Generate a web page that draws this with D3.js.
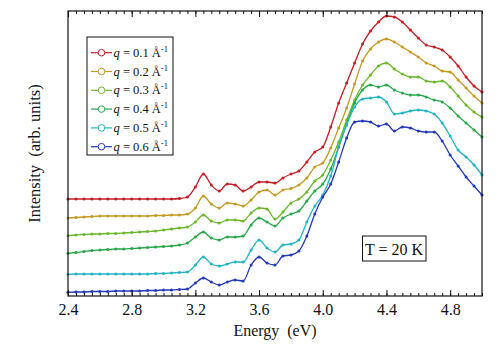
<!DOCTYPE html>
<html>
<head>
<meta charset="utf-8">
<script src="https://cdn.jsdelivr.net/npm/d3@7"></script>
<style>
  body { margin: 0; background: #fff; }
  svg text { font-family: "Liberation Serif", "Times New Roman", serif !important; fill: #111; }
</style>
</head>
<body>
<script>
/*size*/
var w = 498;
var h = 352;
var margin = {left: 68, right: 16, top: 11, bottom: 56};

// photon energy (eV), same grid for every spectrum
var energy = [2.40,2.45,2.50,2.55,2.60,2.65,2.70,2.75,2.80,2.85,2.90,2.95,3.00,3.05,3.10,
  3.15,3.20,3.25,3.30,3.35,3.40,3.45,3.50,3.55,3.60,3.65,3.70,3.75,3.80,3.85,3.90,3.95,
  4.00,4.05,4.10,4.15,4.20,4.25,4.30,4.35,4.40,4.45,4.50,4.55,4.60,4.65,4.70,4.75,4.80,
  4.85,4.90,4.95,5.00];

// intensity (arb. units, spectra offset vertically)
var q01 = [97,97,97,97,97,97,97,97,97,97,97,97,97,97,97.5,
  99,109,122,111,105,112,111,105,109,114,114,113,118,122,125,134,144,149,169,193,
  213,233,252,265,274,280,279,274,266,258,251,249,246,239,230,219,210,204];
var q02 = [78,78.5,79,79.5,80,80,80,80,80,80,80,80.5,80.5,81,81,
  82,88,100,92,88,93,92,90,96,104,106,101,106,107.5,111,118,129,133,148,168,
  188,212,235,247,254,257,254,249,244,239,233,230,225,224,216,208,200,193];
var q03 = [60.3,61,61.5,62,62,62.5,62.5,63,63.5,64,64.5,65,66,67,68,
  69,74,81,75,73,76,76,75,83,88,87,77,84,93,97,104,115,121,136,154,
  176,196,211,221,230,233,227,222,219,219,215,214,215,209,200,191,184,179];
var q04 = [42.7,43.5,44.5,45.5,46,46.5,47,47,47.5,48,48.5,49,49.5,50,51,
  53,59,64,58,56,59,59,60,71,78,74,70,78,82,85,95,105,112,127,149,
  172,193,206,211,209,211,206,203,201,201,199,196,194,188,180,173,166,159];
var q05 = [21.7,22,22,22,22,22,22,22,22,22,22,22.5,22.5,23,23.5,
  24,31,39,32,30,32,34,34,46,56,48,44,51,52,56,74,90,101,120,149,
  171,189,197,198,199,194,182,183,185,186,185,182,173,160,146,139,131,121];
var q06 = [3.7,4,4,4.5,4.5,4.5,5,5,5,5,5.5,5.5,6,6,6.5,
  7,13,18,14,11,14,16,15,31,39,33,31,40,41,45,60,82,99,112,134,
  158,174,175,174,170,172,165,169,168,165,164,164,155,141,130,119,110,101];

var qLabels = ["0.1","0.2","0.3","0.4","0.5","0.6"];
var colors = ["#c41e24","#c49a22","#6ab82a","#27a84a","#22b4c4","#2438b8"];
var spectra = [q01,q02,q03,q04,q05,q06];

var xTicks = [2.4,2.8,3.2,3.6,4.0,4.4,4.8];

var svg = d3.select("body").append("svg")
  .attr("width", w)
  .attr("height", h);

var xScale = d3.scaleLinear()
  .domain([2.4, 5.0])
  .range([margin.left, w - margin.right]);

var yScale = d3.scaleLinear()
  .domain([0, 285])
  .range([h - margin.bottom, margin.top]);

var line = d3.line()
  .x(function(d) { return xScale(d[0]); })
  .y(function(d) { return yScale(d[1]); })
  .curve(d3.curveMonotoneX);

//spectra
spectra.forEach(function(s, k) {
  var pts = energy.map(function(e, i) { return [e, s[i]]; });
  var g = svg.append("g");
  g.append("path")
    .datum(pts)
    .attr("d", line)
    .attr("fill", "none")
    .attr("stroke", colors[k])
    .attr("stroke-width", 1.3);
  g.selectAll("circle")
    .data(pts)
    .enter()
    .append("circle")
    .attr("cx", function(d) { return xScale(d[0]); })
    .attr("cy", function(d) { return yScale(d[1]); })
    .attr("r", 1.5)
    .attr("fill", colors[k])
    .attr("stroke", "none");
});

//frame
svg.append("rect")
  .attr("x", margin.left)
  .attr("y", margin.top)
  .attr("width", w - margin.right - margin.left)
  .attr("height", h - margin.bottom - margin.top)
  .attr("fill", "none")
  .attr("stroke", "#111")
  .attr("stroke-width", 1.2);

//x axis bottom, ticks inside
var minor = d3.range(48, 101).map(function(i) { return i / 20; });
var xAxis = d3.axisBottom(xScale)
  .tickValues(xTicks)
  .tickSize(-6)
  .tickPadding(9)
  .tickFormat(d3.format(".1f"));
var gx = svg.append("g")
  .attr("transform", "translate(0," + (h - margin.bottom) + ")")
  .attr("font-family", null)
  .call(xAxis);
gx.select(".domain").remove();
gx.selectAll("text")
  .attr("y", 19)
  .attr("dy", null)
  .attr("font-size", 16)
  .style("font-family", "Liberation Serif");
gx.selectAll("line").attr("stroke", "#111");

var gxm = svg.append("g")
  .attr("transform", "translate(0," + (h - margin.bottom) + ")")
  .call(d3.axisBottom(xScale).tickValues(minor).tickSize(-3).tickFormat(""));
gxm.select(".domain").remove();
gxm.selectAll("line").attr("stroke", "#111");

//top axis, no labels
var gt = svg.append("g")
  .attr("transform", "translate(0," + margin.top + ")")
  .call(d3.axisTop(xScale).tickValues(xTicks).tickSize(-6).tickFormat(""));
gt.select(".domain").remove();
gt.selectAll("line").attr("stroke", "#111");
var gtm = svg.append("g")
  .attr("transform", "translate(0," + margin.top + ")")
  .call(d3.axisTop(xScale).tickValues(minor).tickSize(-3).tickFormat(""));
gtm.select(".domain").remove();
gtm.selectAll("line").attr("stroke", "#111");

//axis titles
svg.append("text")
  .attr("x", (margin.left + w - margin.right) / 2)
  .attr("y", 336)
  .attr("text-anchor", "middle")
  .attr("font-size", 16)
  .attr("xml:space", "preserve")
  .text("Energy  (eV)");

svg.append("text")
  .attr("transform", "translate(40," + ((margin.top + h - margin.bottom) / 2) + ") rotate(-90)")
  .attr("text-anchor", "middle")
  .attr("font-size", 16.5)
  .attr("xml:space", "preserve")
  .text("Intensity  (arb. units)");

//legend
var leg = svg.append("g");
leg.append("rect")
  .attr("x", 87).attr("y", 37)
  .attr("width", 86).attr("height", 118)
  .attr("fill", "#fff")
  .attr("stroke", "#111")
  .attr("stroke-width", 1);

qLabels.forEach(function(q, i) {
  var yy = 52.7 + i * 18.8;
  leg.append("line")
    .attr("x1", 91).attr("x2", 112)
    .attr("y1", yy).attr("y2", yy)
    .attr("stroke", colors[i]).attr("stroke-width", 1.2);
  leg.append("circle")
    .attr("cx", 101.5).attr("cy", yy).attr("r", 3.3)
    .attr("fill", "#fff")
    .attr("stroke", colors[i]).attr("stroke-width", 1);
  var t = leg.append("text")
    .attr("x", 113.5).attr("y", yy + 4)
    .attr("font-size", 12.5);
  t.append("tspan").attr("font-style", "italic").text("q");
  t.append("tspan").text(" = " + q + " \u00C5");
  t.append("tspan").attr("dy", -5).attr("font-size", 8.5).text("-1");
});

//temperature box
svg.append("rect")
  .attr("x", 362.5).attr("y", 236)
  .attr("width", 63.5).attr("height", 25)
  .attr("fill", "#fff")
  .attr("stroke", "#111")
  .attr("stroke-width", 1);
svg.append("text")
  .attr("x", 394).attr("y", 255)
  .attr("text-anchor", "middle")
  .attr("font-size", 16)
  .text("T = 20 K");
</script>
</body>
</html>
